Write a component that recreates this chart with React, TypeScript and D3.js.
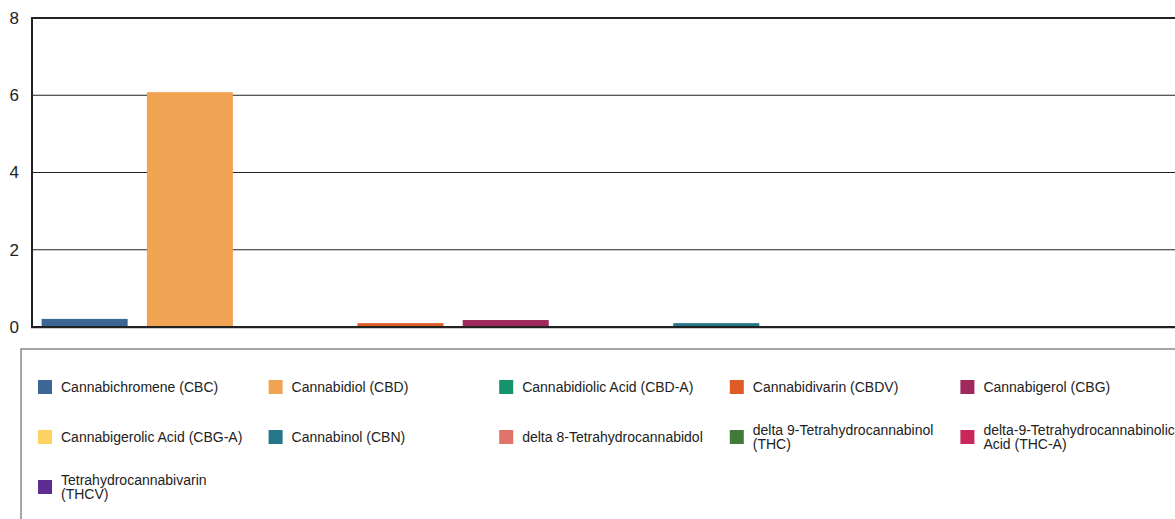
import React from "react";
import * as d3 from "d3";

const categories = [
  "Cannabichromene (CBC)",
  "Cannabidiol (CBD)",
  "Cannabidiolic Acid (CBD-A)",
  "Cannabidivarin (CBDV)",
  "Cannabigerol (CBG)",
  "Cannabigerolic Acid (CBG-A)",
  "Cannabinol (CBN)",
  "delta 8-Tetrahydrocannabidol",
  "delta 9-Tetrahydrocannabinol (THC)",
  "delta-9-Tetrahydrocannabinolic Acid (THC-A)",
  "Tetrahydrocannabivarin (THCV)",
];
const values = [0.21, 6.08, 0, 0.1, 0.18, 0, 0.1, 0, 0, 0, 0];
const colors = [
  "#3b6696",
  "#f0a352",
  "#14936d",
  "#e05c27",
  "#9f285c",
  "#fdd263",
  "#26768a",
  "#e0736a",
  "#427a3a",
  "#c9275a",
  "#5e2d91",
];
const yTicks = [0, 2, 4, 6, 8];

const FONT = "'Liberation Sans', Arial, sans-serif";

function wrap(text: string, maxW: number): string[] {
  const c = document.createElement("canvas").getContext("2d")!;
  c.font = `14px ${FONT}`;
  const words = text.split(" ");
  const lines: string[] = [];
  let cur = "";
  for (const w of words) {
    const t = cur ? cur + " " + w : w;
    if (cur && c.measureText(t).width > maxW) {
      lines.push(cur);
      cur = w;
    } else cur = t;
  }
  if (cur) lines.push(cur);
  return lines;
}

export default function App() {
  const W = 1175;
  const H = 519;
  const left = 32;
  const top = 18;
  const bottom = 327;
  const x = d3
    .scaleBand<string>()
    .domain(categories)
    .range([left, 1190])
    .paddingInner(0.183)
    .paddingOuter(0.0915);
  const y = d3.scaleLinear().domain([0, 8]).range([bottom, top]);

  return (
    <svg
      width={W}
      height={H}
      style={{ position: "absolute", left: 0, top: 0, fontFamily: FONT }}
    >
      <rect x={0} y={0} width={W} height={H} fill="#fff" />
      {yTicks.map((t) => (
        <g key={t}>
          {t !== 0 && t !== 8 && (
            <line x1={left} x2={W} y1={y(t)} y2={y(t)} stroke="#222" strokeWidth={1} />
          )}
          <text
            x={19}
            y={y(t)}
            dy="0.35em"
            textAnchor="end"
            fontSize={17}
            fill="#222"
          >
            {t}
          </text>
        </g>
      ))}
      <line x1={left} x2={W} y1={y(8)} y2={y(8)} stroke="#222" strokeWidth={2} />
      {categories.map((c, i) =>
        values[i] > 0 ? (
          <rect
            key={c}
            x={x(c)}
            y={y(values[i])}
            width={x.bandwidth()}
            height={y(0) - y(values[i])}
            fill={colors[i]}
          />
        ) : null
      )}
      <line x1={left} x2={left} y1={y(8) - 1} y2={y(0) + 1} stroke="#222" strokeWidth={2} />
      <line x1={left - 1} x2={W} y1={y(0)} y2={y(0)} stroke="#222" strokeWidth={2} />
      <line x1={left - 1} x2={W} y1={y(0) + 1.5} y2={y(0) + 1.5} stroke="#ccc" strokeWidth={1} />

      <rect x={21} y={349} width={1200} height={200} fill="none" stroke="#888" strokeWidth={1.5} />
      {categories.map((c, i) => {
        const col = i % 5;
        const row = Math.floor(i / 5);
        const cx = 38 + col * 230.6;
        const cy = 387 + row * 50;
        const lines = wrap(c, 190);
        const lh = 14.5;
        const y0 = cy - ((lines.length - 1) * lh) / 2;
        return (
          <g key={c}>
            <rect x={cx} y={cy - 7} width={14} height={14} fill={colors[i]} />
            <text x={cx + 23} fontSize={14} fill="#222">
              {lines.map((l, k) => (
                <tspan key={k} x={cx + 23} y={y0 + k * lh} dy="0.35em">
                  {l}
                </tspan>
              ))}
            </text>
          </g>
        );
      })}
    </svg>
  );
}
